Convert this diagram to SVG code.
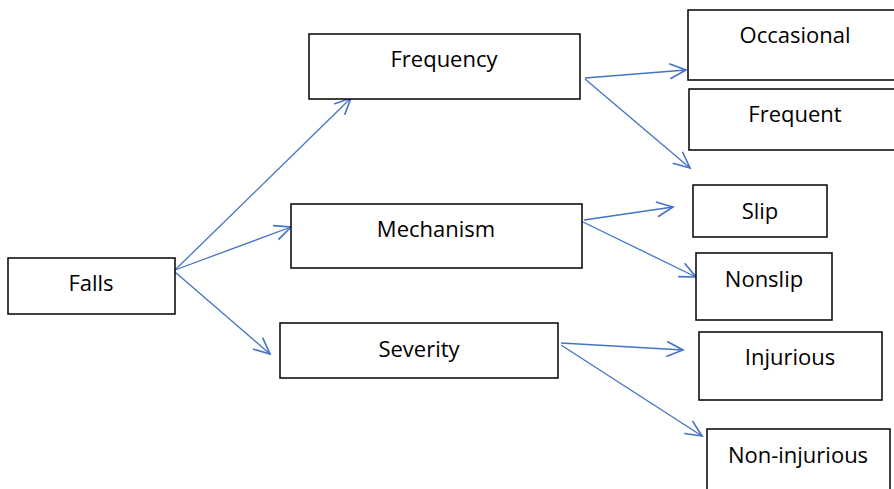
<svg xmlns="http://www.w3.org/2000/svg" width="894" height="489" viewBox="0 0 894 489">
<style>
.box{fill:#fff;stroke:#000;stroke-width:1.5}
.t{font-family:"Open Sans","Noto Sans",sans-serif;font-size:22px;fill:#000;text-anchor:middle}
.c{stroke:#4472C4;stroke-width:1.3;fill:none;marker-end:url(#ah)}
</style>
<defs>
<marker id="ah" markerUnits="userSpaceOnUse" markerWidth="20" markerHeight="20" viewBox="-14 -8 16 16" refX="0" refY="0" orient="auto">
<path d="M-13,-6 L0,0 L-13,6" fill="none" stroke="#4472C4" stroke-width="1.3"/>
</marker>
</defs>
<g id="connectors">
<line class="c" x1="175" y1="270" x2="351" y2="98"/>
<line class="c" x1="175" y1="270" x2="291" y2="227"/>
<line class="c" x1="175" y1="272" x2="270" y2="354"/>
<line class="c" x1="585" y1="78" x2="686" y2="70"/>
<line class="c" x1="585" y1="79" x2="690" y2="168"/>
<line class="c" x1="584" y1="220" x2="673" y2="207"/>
<line class="c" x1="583" y1="222" x2="696" y2="277"/>
<line class="c" x1="561" y1="343" x2="683" y2="350"/>
<line class="c" x1="561" y1="345" x2="702" y2="436"/>
</g>
<g id="falls"><rect class="box" x="8" y="258" width="167" height="56"/><text class="t" x="91" y="291">Falls</text></g>
<g id="frequency"><rect class="box" x="309" y="34" width="271" height="65"/><text class="t" x="444" y="67">Frequency</text></g>
<g id="mechanism"><rect class="box" x="291" y="204" width="291" height="64"/><text class="t" x="436" y="237">Mechanism</text></g>
<g id="severity"><rect class="box" x="280" y="323" width="278" height="55"/><text class="t" x="419" y="357">Severity</text></g>
<g id="occasional"><rect class="box" x="688" y="10" width="210" height="70"/><text class="t" x="795" y="43">Occasional</text></g>
<g id="frequent"><rect class="box" x="689" y="89" width="209" height="61"/><text class="t" x="795" y="122">Frequent</text></g>
<g id="slip"><rect class="box" x="693" y="185" width="134" height="52"/><text class="t" x="760" y="219">Slip</text></g>
<g id="nonslip"><rect class="box" x="696" y="253" width="136" height="67"/><text class="t" x="764" y="287">Nonslip</text></g>
<g id="injurious"><rect class="box" x="699" y="332" width="183" height="68"/><text class="t" x="790" y="365">Injurious</text></g>
<g id="noninjurious"><rect class="box" x="707" y="429" width="183" height="70"/><text class="t" x="798" y="463">Non-injurious</text></g>
</svg>
